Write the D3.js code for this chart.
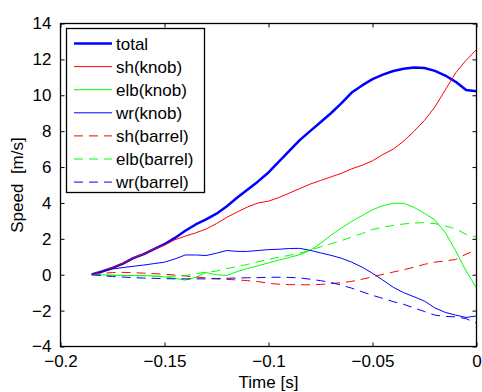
<!DOCTYPE html>
<html><head><meta charset="utf-8">
<script src="https://cdn.jsdelivr.net/npm/d3@7"></script>
<style>body{margin:0;background:#fff}svg{display:block}text{font-family:"Liberation Sans",Arial,sans-serif;white-space:pre}</style>
</head><body><svg id="c" width="482" height="392"></svg>
<script>
const time = [-0.185,-0.18,-0.175,-0.17,-0.165,-0.16,-0.155,-0.15,-0.145,-0.14,-0.135,-0.13,-0.125,-0.12,-0.115,-0.11,-0.105,-0.1,-0.095,-0.09,-0.085,-0.08,-0.075,-0.07,-0.065,-0.06,-0.055,-0.05,-0.045,-0.04,-0.035,-0.03,-0.025,-0.02,-0.015,-0.01,-0.005,0];
const total     = [0.02,0.18,0.38,0.62,0.92,1.15,1.42,1.7,2.05,2.45,2.8,3.08,3.4,3.82,4.3,4.75,5.2,5.7,6.3,6.9,7.5,8.0,8.5,9.0,9.55,10.15,10.55,10.9,11.15,11.35,11.48,11.55,11.52,11.36,11.1,10.75,10.3,10.22];
const shKnob    = [0.02,0.2,0.4,0.64,0.93,1.16,1.42,1.65,1.95,2.15,2.33,2.55,2.85,3.2,3.5,3.78,4.0,4.1,4.3,4.55,4.8,5.05,5.25,5.45,5.65,5.9,6.1,6.35,6.7,7.0,7.45,8.0,8.6,9.35,10.3,11.25,11.95,12.55];
const elbKnob   = [0,0,-0.03,-0.04,-0.05,-0.05,-0.07,-0.12,-0.2,-0.3,-0.15,0.12,0.0,-0.04,0.18,0.35,0.5,0.66,0.82,0.96,1.12,1.35,1.75,2.2,2.6,2.97,3.3,3.62,3.85,3.98,3.98,3.75,3.42,3.05,2.35,1.33,0.2,-0.73];
const wrKnob    = [0,0.18,0.32,0.4,0.47,0.54,0.62,0.7,0.88,1.1,1.1,1.07,1.2,1.35,1.3,1.3,1.35,1.4,1.42,1.46,1.47,1.36,1.22,1.08,0.92,0.7,0.42,0.08,-0.3,-0.7,-1.0,-1.23,-1.47,-1.85,-2.1,-2.25,-2.38,-2.3];
const shBarrel  = [0,0.08,0.12,0.13,0.11,0.09,0.06,0.03,-0.02,-0.07,-0.13,-0.18,-0.23,-0.26,-0.29,-0.33,-0.38,-0.48,-0.53,-0.55,-0.56,-0.56,-0.54,-0.5,-0.44,-0.37,-0.25,-0.12,0.02,0.15,0.28,0.42,0.58,0.7,0.77,0.85,1.15,1.38];
const elbBarrel = [0,-0.01,-0.03,-0.04,-0.05,-0.06,-0.08,-0.08,-0.08,-0.05,0.05,0.15,0.2,0.35,0.45,0.58,0.72,0.86,0.97,1.08,1.2,1.37,1.55,1.72,1.9,2.1,2.3,2.52,2.65,2.75,2.83,2.88,2.9,2.85,2.72,2.55,2.25,2.1];
const wrBarrel  = [0,-0.05,-0.1,-0.13,-0.16,-0.19,-0.2,-0.22,-0.23,-0.23,-0.23,-0.23,-0.22,-0.2,-0.18,-0.17,-0.16,-0.14,-0.14,-0.15,-0.18,-0.25,-0.33,-0.43,-0.58,-0.75,-0.95,-1.15,-1.32,-1.5,-1.65,-1.85,-2.05,-2.25,-2.32,-2.35,-2.45,-2.7];
const seriesNames = ["total","sh(knob)","elb(knob)","wr(knob)","sh(barrel)","elb(barrel)","wr(barrel)"];
const seriesValues = [total,shKnob,elbKnob,wrKnob,shBarrel,elbBarrel,wrBarrel];
const xTicks = [-0.2,-0.15,-0.1,-0.05,0];
const xTickLabels = ["\u22120.2","\u22120.15","\u22120.1","\u22120.05","0"];
const yTicks = [-4,-2,0,2,4,6,8,10,12,14];
const xLabel = "Time [s]";
const yLabel = "Speed  [m/s]";

const colors = ["#0000ff","#ff0000","#00ff00","#0000ff","#ff0000","#00ff00","#0000ff"];
const widths = [2.5,1,1,1,1,1,1];
const dashes = [null,null,null,null,"9,6","9,6","9,6"];

const L=60.5,R=476.5,T=23.5,B=346.5;
const svg=d3.select("#c");
const x=d3.scaleLinear().domain([-0.2,0]).range([L,R]);
const y=d3.scaleLinear().domain([-4,14]).range([B,T]);

svg.append("clipPath").attr("id","clp").append("rect").attr("x",L).attr("y",T).attr("width",R-L).attr("height",B-T);
const line=d3.line().x((d,i)=>x(time[i])).y(d=>y(d));
const g=svg.append("g").attr("clip-path","url(#clp)");
seriesValues.forEach((vals,k)=>{
  g.append("path").attr("d",line(vals)).attr("fill","none")
   .attr("stroke",colors[k]).attr("stroke-width",widths[k])
   .attr("stroke-dasharray",dashes[k]).attr("stroke-linejoin","round");
});

const tl=4;
const fmtX=(d,i)=>xTickLabels[i];
const axB=d3.axisBottom(x).tickValues(xTicks).tickSizeInner(-tl).tickSizeOuter(0).tickFormat(fmtX).tickPadding(8);
const axT=d3.axisTop(x).tickValues(xTicks).tickSizeInner(-tl).tickSizeOuter(0).tickFormat("");
const axL=d3.axisLeft(y).tickValues(yTicks).tickSizeInner(-tl).tickSizeOuter(0).tickFormat(d=>d<0?"\u2212"+Math.abs(d):d).tickPadding(9);
const axR=d3.axisRight(y).tickValues(yTicks).tickSizeInner(-tl).tickSizeOuter(0).tickFormat("");
function style(sel){sel.select(".domain").remove();sel.selectAll("line").attr("stroke","#000");sel.selectAll("text").attr("fill","#000").attr("font-size",17);}
svg.append("g").attr("transform",`translate(0,${B})`).call(axB).call(style);
svg.append("g").attr("transform",`translate(0,${T})`).call(axT).call(style);
svg.append("g").attr("transform",`translate(${L},0)`).call(axL).call(style);
svg.append("g").attr("transform",`translate(${R},0)`).call(axR).call(style);
svg.append("rect").attr("x",L).attr("y",T).attr("width",R-L).attr("height",B-T).attr("fill","none").attr("stroke","#000").attr("stroke-width",1.3);

svg.append("text").attr("x",(L+R)/2).attr("y",388).attr("text-anchor","middle").attr("font-size",17).text(xLabel);
svg.append("text").attr("transform",`translate(23,${(T+B)/2}) rotate(-90)`).attr("text-anchor","middle").attr("font-size",17).text(yLabel);

const lg=svg.append("g");
lg.append("rect").attr("x",66.5).attr("y",28.5).attr("width",138).attr("height",164).attr("fill","#fff").attr("stroke","#000").attr("stroke-width",1.3);
seriesNames.forEach((n,k)=>{
  const yy=43.5+k*23.1;
  lg.append("line").attr("x1",74).attr("x2",112).attr("y1",yy).attr("y2",yy)
    .attr("stroke",colors[k]).attr("stroke-width",widths[k]).attr("stroke-dasharray",dashes[k]);
  lg.append("text").attr("x",116).attr("y",yy+6).attr("font-size",17).text(n);
});
</script></body></html>
